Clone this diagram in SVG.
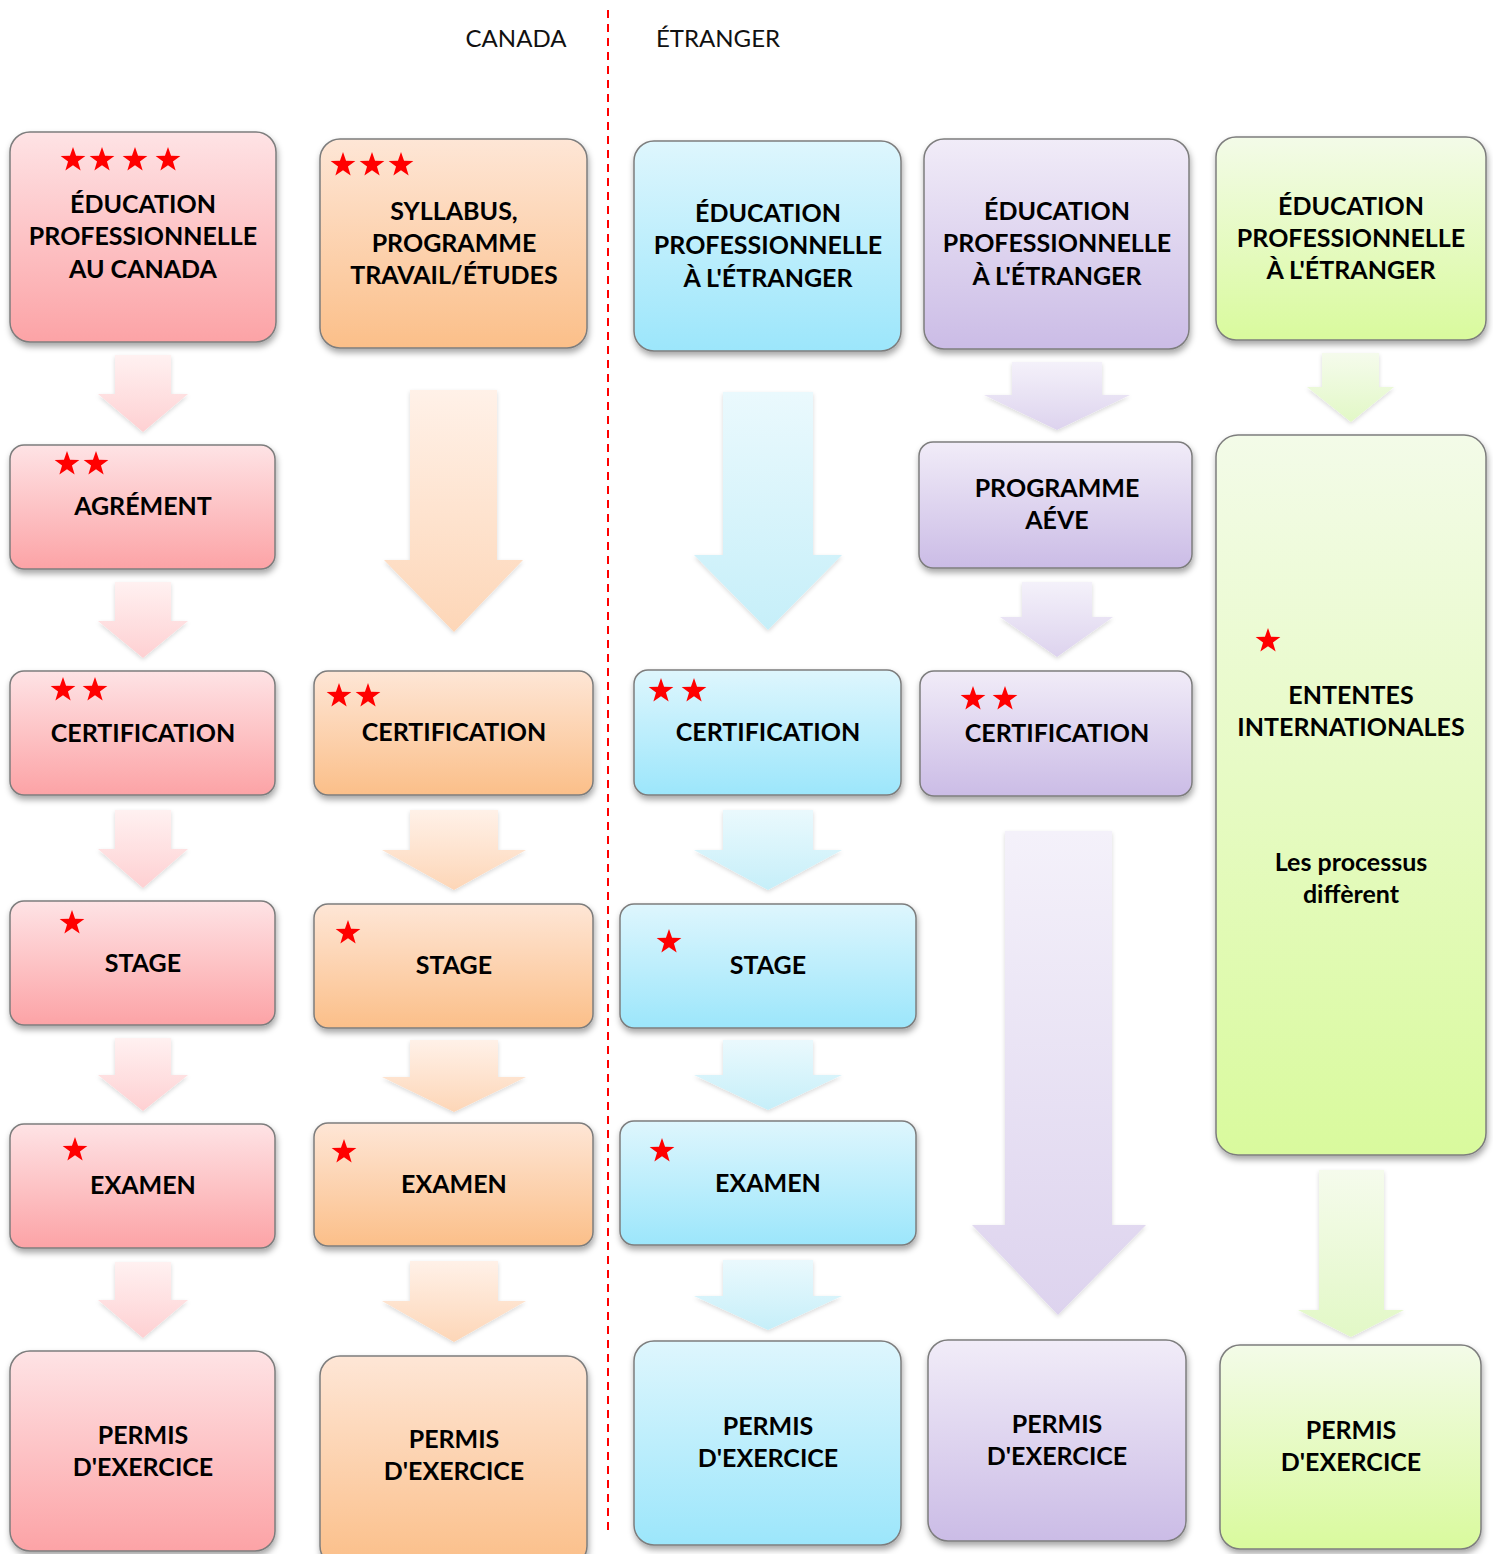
<svg xmlns="http://www.w3.org/2000/svg" xmlns:xlink="http://www.w3.org/1999/xlink" width="1493" height="1554" viewBox="0 0 1493 1554">
<style>
.box{stroke:#7d7d7d;stroke-width:1.5;filter:url(#sh)}
.t{font-family:Lato,"Liberation Sans",sans-serif;font-weight:bold;font-size:25px;fill:#000;text-anchor:middle}
.h{font-family:Lato,"Liberation Sans",sans-serif;font-size:24px;fill:#111;text-anchor:middle}
.arr{filter:url(#ash)}
.pk{fill:url(#gpk)} .or{fill:url(#gor)} .bl{fill:url(#gbl)} .pu{fill:url(#gpu)} .gr{fill:url(#ggr)}
.apk{fill:url(#apk)} .aor{fill:url(#aor)} .abl{fill:url(#abl)} .apu{fill:url(#apu)} .agr{fill:url(#agr)}
</style>
<defs>
<filter id="sh" x="-10%" y="-10%" width="125%" height="130%"><feDropShadow dx="1" dy="4" stdDeviation="3" flood-color="#000" flood-opacity="0.35"/></filter>
<filter id="ash" x="-10%" y="-10%" width="125%" height="130%"><feDropShadow dx="0" dy="2" stdDeviation="2" flood-color="#000" flood-opacity="0.15"/></filter>
<linearGradient id="gpk" x1="0" y1="0" x2="0" y2="1"><stop offset="0" stop-color="#fee3e5"/><stop offset="1" stop-color="#fca3a6"/></linearGradient>
<linearGradient id="gor" x1="0" y1="0" x2="0" y2="1"><stop offset="0" stop-color="#fee6d6"/><stop offset="1" stop-color="#fbbf89"/></linearGradient>
<linearGradient id="gbl" x1="0" y1="0" x2="0" y2="1"><stop offset="0" stop-color="#def6fd"/><stop offset="1" stop-color="#9ce6fb"/></linearGradient>
<linearGradient id="gpu" x1="0" y1="0" x2="0" y2="1"><stop offset="0" stop-color="#f1ecf8"/><stop offset="1" stop-color="#cbbce6"/></linearGradient>
<linearGradient id="ggr" x1="0" y1="0" x2="0" y2="1"><stop offset="0" stop-color="#f3fbe8"/><stop offset="1" stop-color="#d9fa9d"/></linearGradient>
<linearGradient id="apk" x1="0" y1="0" x2="0" y2="1"><stop offset="0" stop-color="#fff1f1"/><stop offset="1" stop-color="#fed0d2"/></linearGradient>
<linearGradient id="aor" x1="0" y1="0" x2="0" y2="1"><stop offset="0" stop-color="#fff1e8"/><stop offset="1" stop-color="#fdd6b7"/></linearGradient>
<linearGradient id="abl" x1="0" y1="0" x2="0" y2="1"><stop offset="0" stop-color="#eaf9fd"/><stop offset="1" stop-color="#c6eff9"/></linearGradient>
<linearGradient id="apu" x1="0" y1="0" x2="0" y2="1"><stop offset="0" stop-color="#f4f1fa"/><stop offset="1" stop-color="#ddd3ee"/></linearGradient>
<linearGradient id="agr" x1="0" y1="0" x2="0" y2="1"><stop offset="0" stop-color="#f5fbec"/><stop offset="1" stop-color="#e2f8c6"/></linearGradient>
<polygon id="star" fill="#ff0000" points="0,-13 3.06,-4.21 12.36,-4.02 4.95,1.61 7.64,10.52 0,5.2 -7.64,10.52 -4.95,1.61 -12.36,-4.02 -3.06,-4.21"/>
</defs>
<rect width="1493" height="1554" fill="#fff"/>

<g id="headers">
<text class="h" x="516" y="47">CANADA</text>
<text class="h" x="718" y="47">ÉTRANGER</text>
<line x1="608" y1="10" x2="608" y2="1530" stroke="#f00" stroke-width="2" stroke-dasharray="8,6"/>
</g>

<g id="connectors">
<!-- column 1 -->
<path class="arr apk" d="M115,355 H171 V394 H188 L143,432 L98,394 H115 Z"/>
<path class="arr apk" d="M115,582 H171 V621 H188 L143,658 L98,621 H115 Z"/>
<path class="arr apk" d="M115,810 H171 V849 H188 L143,888 L98,849 H115 Z"/>
<path class="arr apk" d="M115,1038 H171 V1075 H188 L143,1111 L98,1075 H115 Z"/>
<path class="arr apk" d="M115,1262 H171 V1300 H188 L143,1338 L98,1300 H115 Z"/>
<!-- column 2 -->
<path class="arr aor" d="M410,390 H497 V560 H523 L454,632 L384,560 H410 Z"/>
<path class="arr aor" d="M410,810 H498 V850 H526 L454,890 L382,850 H410 Z"/>
<path class="arr aor" d="M410,1040 H498 V1077 H526 L454,1112 L382,1077 H410 Z"/>
<path class="arr aor" d="M410,1261 H498 V1301 H526 L454,1342 L382,1301 H410 Z"/>
<!-- column 3 -->
<path class="arr abl" d="M723,392 H813 V555 H842 L768,630 L694,555 H723 Z"/>
<path class="arr abl" d="M723,810 H813 V850 H842 L768,890 L694,850 H723 Z"/>
<path class="arr abl" d="M723,1040 H813 V1075 H842 L768,1110 L694,1075 H723 Z"/>
<path class="arr abl" d="M723,1260 H813 V1296 H842 L768,1330 L694,1296 H723 Z"/>
<!-- column 4 -->
<path class="arr apu" d="M1012,362 H1102 V395 H1130 L1057,430 L984,395 H1012 Z"/>
<path class="arr apu" d="M1022,582 H1092 V617 H1113 L1057,657 L1000,617 H1022 Z"/>
<path class="arr apu" d="M1005,831 H1112 V1225 H1146 L1058,1315 L972,1225 H1005 Z"/>
<!-- column 5 -->
<path class="arr agr" d="M1322,353 H1379 V387 H1394 L1351,422 L1307,387 H1322 Z"/>
<path class="arr agr" d="M1319,1170 H1384 V1310 H1404 L1351,1337 L1298,1310 H1319 Z"/>
</g>

<!-- Column 1 -->
<g id="c1-edu">
<rect class="box pk" x="10" y="132" width="266" height="210" rx="20"/>
<use href="#star" x="73" y="160"/><use href="#star" x="102" y="160"/><use href="#star" x="135" y="160"/><use href="#star" x="168" y="160"/>
<text class="t" x="143" y="213">ÉDUCATION</text>
<text class="t" x="143" y="245">PROFESSIONNELLE</text>
<text class="t" x="143" y="278">AU CANADA</text>
</g>
<g id="c1-agrement">
<rect class="box pk" x="10" y="445" width="265" height="124" rx="14"/>
<use href="#star" x="67" y="464"/><use href="#star" x="96" y="464"/>
<text class="t" x="143" y="515">AGRÉMENT</text>
</g>
<g id="c1-cert">
<rect class="box pk" x="10" y="671" width="265" height="124" rx="14"/>
<use href="#star" x="63" y="690"/><use href="#star" x="95" y="690"/>
<text class="t" x="143" y="742">CERTIFICATION</text>
</g>
<g id="c1-stage">
<rect class="box pk" x="10" y="901" width="265" height="124" rx="14"/>
<use href="#star" x="72" y="923"/>
<text class="t" x="143" y="972">STAGE</text>
</g>
<g id="c1-examen">
<rect class="box pk" x="10" y="1124" width="265" height="124" rx="14"/>
<use href="#star" x="75" y="1150"/>
<text class="t" x="143" y="1194">EXAMEN</text>
</g>
<g id="c1-permis">
<rect class="box pk" x="10" y="1351" width="265" height="200" rx="20"/>
<text class="t" x="143" y="1444">PERMIS</text>
<text class="t" x="143" y="1476">D'EXERCICE</text>
</g>

<!-- Column 2 -->
<g id="c2-syllabus">
<rect class="box or" x="320" y="139" width="267" height="209" rx="20"/>
<use href="#star" x="343" y="165"/><use href="#star" x="372" y="165"/><use href="#star" x="401" y="165"/>
<text class="t" x="454" y="220">SYLLABUS,</text>
<text class="t" x="454" y="252">PROGRAMME</text>
<text class="t" x="454" y="284">TRAVAIL/ÉTUDES</text>
</g>
<g id="c2-cert">
<rect class="box or" x="314" y="671" width="279" height="124" rx="14"/>
<use href="#star" x="339" y="696"/><use href="#star" x="368" y="696"/>
<text class="t" x="454" y="741">CERTIFICATION</text>
</g>
<g id="c2-stage">
<rect class="box or" x="314" y="904" width="279" height="124" rx="14"/>
<use href="#star" x="348" y="933"/>
<text class="t" x="454" y="974">STAGE</text>
</g>
<g id="c2-examen">
<rect class="box or" x="314" y="1123" width="279" height="123" rx="14"/>
<use href="#star" x="344" y="1152"/>
<text class="t" x="454" y="1193">EXAMEN</text>
</g>
<g id="c2-permis">
<rect class="box or" x="320" y="1356" width="267" height="210" rx="20"/>
<text class="t" x="454" y="1448">PERMIS</text>
<text class="t" x="454" y="1480">D'EXERCICE</text>
</g>

<!-- Column 3 -->
<g id="c3-edu">
<rect class="box bl" x="634" y="141" width="267" height="210" rx="20"/>
<text class="t" x="768" y="222">ÉDUCATION</text>
<text class="t" x="768" y="254">PROFESSIONNELLE</text>
<text class="t" x="768" y="287">À L'ÉTRANGER</text>
</g>
<g id="c3-cert">
<rect class="box bl" x="634" y="670" width="267" height="125" rx="14"/>
<use href="#star" x="661" y="691"/><use href="#star" x="694" y="691"/>
<text class="t" x="768" y="741">CERTIFICATION</text>
</g>
<g id="c3-stage">
<rect class="box bl" x="620" y="904" width="296" height="124" rx="14"/>
<use href="#star" x="669" y="942"/>
<text class="t" x="768" y="974">STAGE</text>
</g>
<g id="c3-examen">
<rect class="box bl" x="620" y="1121" width="296" height="124" rx="14"/>
<use href="#star" x="662" y="1151"/>
<text class="t" x="768" y="1192">EXAMEN</text>
</g>
<g id="c3-permis">
<rect class="box bl" x="634" y="1341" width="267" height="204" rx="20"/>
<text class="t" x="768" y="1435">PERMIS</text>
<text class="t" x="768" y="1467">D'EXERCICE</text>
</g>

<!-- Column 4 -->
<g id="c4-edu">
<rect class="box pu" x="924" y="139" width="265" height="210" rx="20"/>
<text class="t" x="1057" y="220">ÉDUCATION</text>
<text class="t" x="1057" y="252">PROFESSIONNELLE</text>
<text class="t" x="1057" y="285">À L'ÉTRANGER</text>
</g>
<g id="c4-aeve">
<rect class="box pu" x="919" y="442" width="273" height="126" rx="14"/>
<text class="t" x="1057" y="497">PROGRAMME</text>
<text class="t" x="1057" y="529">AÉVE</text>
</g>
<g id="c4-cert">
<rect class="box pu" x="920" y="671" width="272" height="125" rx="14"/>
<use href="#star" x="973" y="699"/><use href="#star" x="1005" y="699"/>
<text class="t" x="1057" y="742">CERTIFICATION</text>
</g>
<g id="c4-permis">
<rect class="box pu" x="928" y="1340" width="258" height="201" rx="20"/>
<text class="t" x="1057" y="1433">PERMIS</text>
<text class="t" x="1057" y="1465">D'EXERCICE</text>
</g>

<!-- Column 5 -->
<g id="c5-edu">
<rect class="box gr" x="1216" y="137" width="270" height="203" rx="20"/>
<text class="t" x="1351" y="215">ÉDUCATION</text>
<text class="t" x="1351" y="247">PROFESSIONNELLE</text>
<text class="t" x="1351" y="279">À L'ÉTRANGER</text>
</g>
<g id="c5-ententes">
<rect class="box gr" x="1216" y="435" width="270" height="720" rx="22"/>
<use href="#star" x="1268" y="641"/>
<text class="t" x="1351" y="704">ENTENTES</text>
<text class="t" x="1351" y="736">INTERNATIONALES</text>
<text class="t" x="1351" y="871">Les processus</text>
<text class="t" x="1351" y="903">diffèrent</text>
</g>
<g id="c5-permis">
<rect class="box gr" x="1220" y="1345" width="261" height="204" rx="20"/>
<text class="t" x="1351" y="1439">PERMIS</text>
<text class="t" x="1351" y="1471">D'EXERCICE</text>
</g>
</svg>
